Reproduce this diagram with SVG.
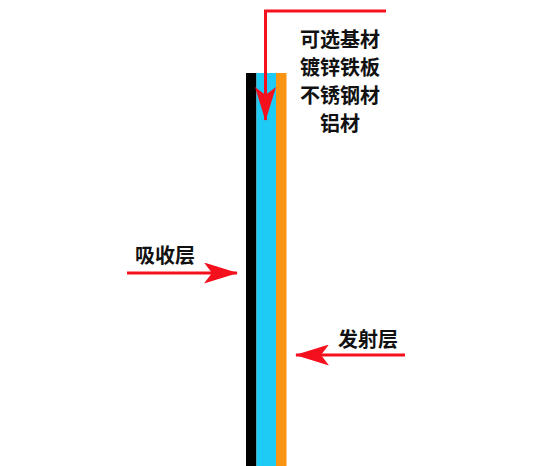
<svg xmlns="http://www.w3.org/2000/svg" width="545" height="466" viewBox="0 0 545 466">
<style>
.t{font-family:"Noto Sans CJK SC","Liberation Sans",sans-serif;font-size:20px;font-weight:bold;fill:#111;text-anchor:middle}
.c{fill:none;stroke:#f5101e;stroke-width:3}
</style>
<defs>
<marker id="ah" markerUnits="userSpaceOnUse" markerWidth="34" markerHeight="21" refX="33" refY="10.5" orient="auto" viewBox="0 0 34 21">
<path d="M0,0 L34,10.5 L0,21 L8,10.5 Z" fill="#f5101e"/>
</marker>
</defs>
<rect width="545" height="466" fill="#fff"/>
<g id="layers">
<rect x="246" y="73" width="10.5" height="393" fill="#000"/>
<rect x="256.5" y="73" width="19.5" height="393" fill="#1ecbf4"/>
<rect x="276" y="73" width="10.5" height="393" fill="#fa9514"/>
</g>
<g id="substrate-label">
<text class="t" x="340" y="47">可选基材</text>
<text class="t" x="340" y="75">镀锌铁板</text>
<text class="t" x="340" y="103">不锈钢材</text>
<text class="t" x="340" y="131">铝材</text>
</g>
<g id="absorb-label"><text class="t" x="165" y="263">吸收层</text></g>
<g id="emit-label"><text class="t" x="368" y="347">发射层</text></g>
<g id="connectors">
<path class="c" d="M386,11 H265.5 V120" marker-end="url(#ah)"/>
<path class="c" d="M127,273 H237" marker-end="url(#ah)"/>
<path class="c" d="M405,355 H296" marker-end="url(#ah)"/>
</g>
</svg>
